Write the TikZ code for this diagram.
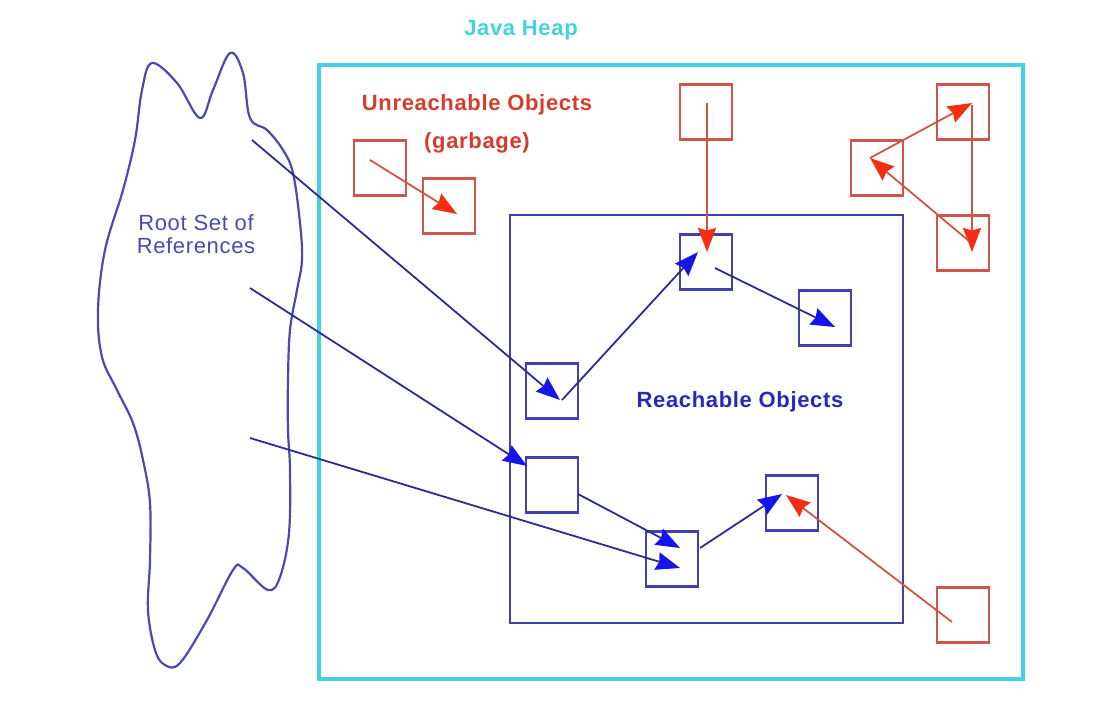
\documentclass[tikz,border=0pt]{standalone}
\usepackage{fontspec}
\setmainfont{Liberation Sans}
\newfontfamily\lblfont[LetterSpace=3]{Liberation Sans}
\usetikzlibrary{arrows.meta}
\definecolor{heapcyan}{RGB}{70,208,225}
\definecolor{boxred}{RGB}{210,85,75}
\definecolor{linered}{RGB}{205,85,70}
\definecolor{tipred}{RGB}{245,45,20}
\definecolor{boxblue}{RGB}{65,65,170}
\definecolor{lineblue}{RGB}{45,45,140}
\definecolor{tipblue}{RGB}{20,20,235}
\definecolor{textred}{RGB}{215,60,45}
\definecolor{textblue}{RGB}{40,40,190}
\definecolor{cloudblue}{RGB}{75,75,175}
\begin{document}
\begin{tikzpicture}[x=1pt,y=-1pt,
  obj/.style={draw,line width=2.2pt,minimum width=52pt,minimum height=55pt,inner sep=0pt},
  redobj/.style={obj,draw=boxred},
  blueobj/.style={obj,draw=boxblue},
  redarrow/.style={draw=linered,line width=1.8pt,-{Stealth[length=24pt,width=18pt,inset=2.5pt,color=tipred]}},
  bluearrow/.style={draw=lineblue,line width=1.8pt,-{Stealth[length=24pt,width=18pt,inset=2.5pt,color=tipblue]}},
  lbl/.style={font=\lblfont\fontsize{22}{26}\selectfont\bfseries,inner sep=0pt,anchor=base},
  rootlbl/.style={font=\lblfont\fontsize{22}{26}\selectfont,inner sep=0pt,anchor=base,text=cloudblue}
]
\useasboundingbox[fill=white] (0,0) rectangle (1098,705);

% Java heap
\draw[heapcyan,line width=4pt] (319,65) rectangle (1023,679);
\node[lbl,text=heapcyan] (heaplbl) at (521,35) {Java Heap};

% reachable region
\draw[boxblue,line width=2pt] (510,215) rectangle (903,623);

% cloud
\draw[cloudblue,line width=2.2pt] plot[smooth cycle,tension=0.6] coordinates {
 (152,63) (177,83) (200,118) (213,90) (230,53) (243,73) (250,118) (267,130)
 (283,150) (293,173) (300,223) (302,260) (297,290) (290,330) (288,380)
 (288,430) (290,470) (289,533) (280,577) (268,590) (243,568) (233,570)
 (207,620) (180,663) (165,665) (155,650) (148,610) (150,560) (150,503)
 (143,460) (133,423) (117,390) (102,357) (98,310) (105,250) (123,190)
 (135,140) (142,90)};

% labels
\node[lbl,text=textred] (unreach) at (477,110) {Unreachable Objects};
\node[lbl,text=textred] (garb) at (477,148) {(garbage)};
\node[lbl,text=textblue] (reach) at (740,407) {Reachable Objects};
\node[rootlbl] (root1) at (196,230) {Root Set of};
\node[rootlbl] (root2) at (196,253) {References};

% objects
\node[redobj] (r1) at (380,168) {};
\node[redobj] (r2) at (449,206) {};
\node[redobj] (r3) at (706,112) {};
\node[redobj] (r4) at (963,112) {};
\node[redobj] (r5) at (877,168) {};
\node[redobj] (r6) at (963,243) {};
\node[redobj] (r7) at (963,615) {};
\node[blueobj] (b1) at (706,262) {};
\node[blueobj] (b2) at (825,318) {};
\node[blueobj] (b3) at (552,391) {};
\node[blueobj] (b4) at (552,485) {};
\node[blueobj] (b5) at (672,559) {};
\node[blueobj] (b6) at (792,503) {};

% root references
\coordinate (rs1) at (252,140);
\coordinate (rs2) at (250,288);
\coordinate (rs3) at (250,438);

% red arrows
\draw[redarrow] ([shift={(-10,-8)}]r1.center) -- ([shift={(8,8)}]r2.center);
\draw[redarrow] ([shift={(1,-9)}]r3.center) -- ([shift={(1,-10)}]b1.center);
\draw[redarrow] ([shift={(-7,-10)}]r5.center) -- ([shift={(9,-9)}]r4.center);
\draw[redarrow] ([shift={(9,-7)}]r4.center) -- ([shift={(9,9)}]r6.center);
\draw[redarrow] ([shift={(6,-2)}]r6.center) -- ([shift={(-7,-10)}]r5.center);
\draw[redarrow] ([shift={(-11,7)}]r7.center) -- ([shift={(-6,-8)}]b6.center);

% blue arrows
\draw[bluearrow] (rs1) -- ([shift={(8,9)}]b3.center);
\draw[bluearrow] (rs2) -- ([shift={(-25,-19)}]b4.center);
\draw[bluearrow] (rs3) -- ([shift={(8,9)}]b5.center);
\draw[bluearrow] ([shift={(10,9)}]b3.center) -- ([shift={(-8,-10)}]b1.center);
\draw[bluearrow] ([shift={(9,6)}]b1.center) -- ([shift={(10,9)}]b2.center);
\draw[bluearrow] ([shift={(26,9)}]b4.center) -- ([shift={(8,-11)}]b5.center);
\draw[bluearrow] ([shift={(28,-11)}]b5.center) -- ([shift={(-10,-9)}]b6.center);
\end{tikzpicture}
\end{document}
